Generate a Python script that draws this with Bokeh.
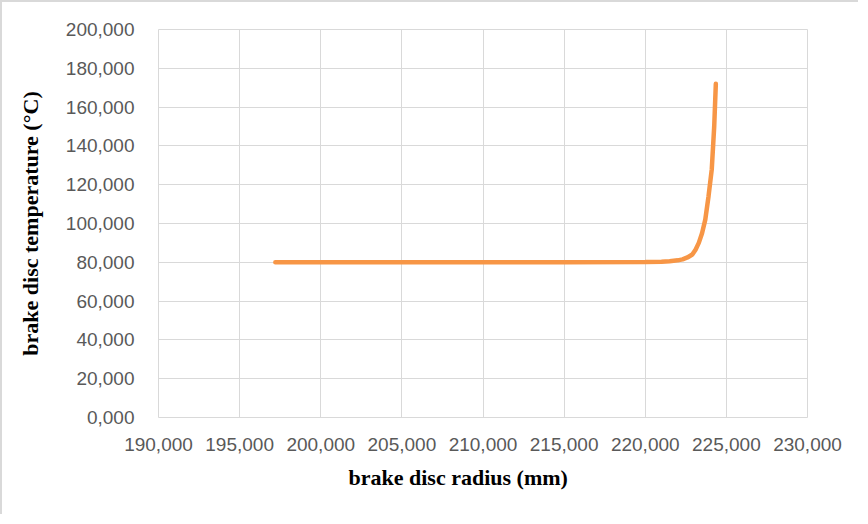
from bokeh.plotting import figure
from bokeh.models import FixedTicker, Range1d, Title
from bokeh.embed import file_html
from bokeh.resources import INLINE

# Data
radius_mm = [197.2, 200.0, 205.0, 210.0, 215.0, 220.0, 221.0, 221.5, 222.0, 222.3,
             222.6, 222.9, 223.1, 223.3, 223.5, 223.7, 223.9, 224.1, 224.25, 224.35]
temperature_c = [80.0, 80.0, 80.0, 80.0, 80.0, 80.1, 80.3, 80.6, 81.0, 81.5,
                 82.5, 84.0, 86.5, 90.0, 95.0, 102.0, 114.0, 128.0, 150.0, 172.0]

x_ticks = [190, 195, 200, 205, 210, 215, 220, 225, 230]
x_tick_labels = ["190,000", "195,000", "200,000", "205,000", "210,000",
                 "215,000", "220,000", "225,000", "230,000"]
y_ticks = [0, 20, 40, 60, 80, 100, 120, 140, 160, 180, 200]
y_tick_labels = ["0,000", "20,000", "40,000", "60,000", "80,000", "100,000",
                 "120,000", "140,000", "160,000", "180,000", "200,000"]
x_title = "brake disc radius (mm)"
y_title = "brake disc temperature (°C)"

p = figure(width=858, height=514, output_backend="svg", toolbar_location=None,
           x_range=Range1d(190, 230), y_range=Range1d(0, 200),
           min_border_left=156, min_border_right=53, min_border_top=27, min_border_bottom=99)
p.styles = {"border-top": "2px solid #d9d9d9", "border-left": "2px solid #d9d9d9"}

p.line(radius_mm, temperature_c, line_color="#F79646", line_width=4.5, line_cap="round")

grid_color = "#d9d9d9"
p.outline_line_color = grid_color
p.xgrid.grid_line_color = grid_color
p.ygrid.grid_line_color = grid_color
p.xaxis.ticker = FixedTicker(ticks=x_ticks)
p.yaxis.ticker = FixedTicker(ticks=y_ticks)
p.xaxis.major_label_overrides = dict(zip(x_ticks, x_tick_labels))
p.yaxis.major_label_overrides = dict(zip(y_ticks, y_tick_labels))

for ax in (p.xaxis[0], p.yaxis[0]):
    ax.axis_line_color = None
    ax.major_tick_line_color = None
    ax.minor_tick_line_color = None
    ax.major_label_text_font = "Liberation Sans"
    ax.major_label_text_font_size = "19px"
    ax.major_label_text_color = "#595959"
    ax.axis_label_text_font = "Liberation Serif"
    ax.axis_label_text_font_style = "bold"
    ax.axis_label_text_font_size = "22px"
    ax.axis_label_text_color = "#000000"

p.yaxis.axis_label = y_title
p.xaxis.major_label_standoff = 14
p.yaxis.major_label_standoff = 18
p.yaxis.axis_label_standoff = 20

# x-axis title is centred on the whole chart area rather than on the plot frame
p.add_layout(Title(text=x_title, align="left", offset=190, standoff=18,
                   text_font="Liberation Serif", text_font_style="bold",
                   text_font_size="22px", text_color="#000000"), "below")

open("out.html", "w").write(file_html(p, INLINE))
